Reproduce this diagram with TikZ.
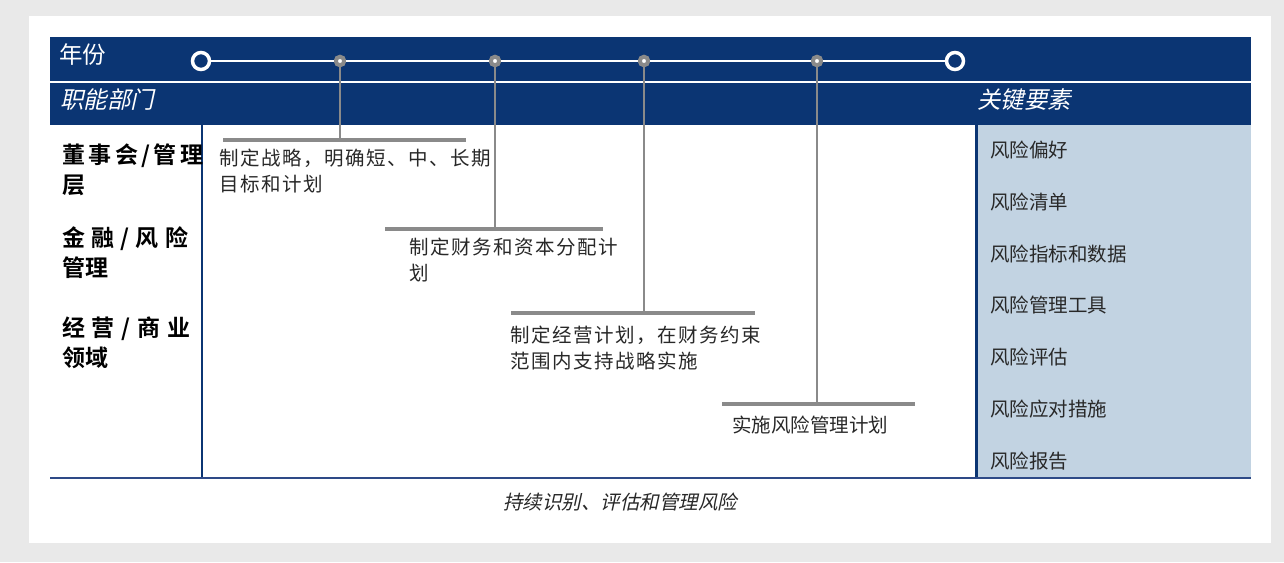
\documentclass[tikz,border=0pt]{standalone}
\usepackage{fontspec}
\newfontfamily\cjk[BoldFont={* Bold}]{Noto Sans CJK SC}
\newfontfamily\cjkit[FakeSlant=0.22]{Noto Sans CJK SC}
\newfontfamily\cjkls[LetterSpace=8]{Noto Sans CJK SC}
\definecolor{navy}{RGB}{11,53,115}
\definecolor{bggray}{RGB}{233,233,233}
\definecolor{panelblue}{RGB}{194,211,226}
\definecolor{bottomblue}{RGB}{46,74,135}
\definecolor{barsgray}{RGB}{138,138,138}
\definecolor{txtgray}{RGB}{40,40,40}
\tikzset{
  opencirc/.style={circle, draw=white, line width=3.5pt, fill=navy, minimum size=17pt, inner sep=0pt},
  tdot/.style={circle, fill=white, draw=barsgray, line width=4pt, minimum size=8.5pt, inner sep=0pt},
  bar/.style={draw=barsgray, line width=4pt},
  drop/.style={draw=barsgray, line width=2pt},
  steptext/.style={anchor=base west, inner sep=0pt, align=left, text=txtgray, font=\cjkls\fontsize{19.5}{26}\selectfont},
  keyitem/.style={anchor=base west, inner sep=0pt, text=txtgray, font=\cjk\fontsize{19.5}{24}\selectfont},
  dept/.style={anchor=base west, inner sep=0pt, align=left, text=black, font=\cjk\bfseries\fontsize{23}{30}\selectfont},
  headtext/.style={anchor=base west, inner sep=0pt, text=white, font=\cjkit\fontsize{23.5}{28}\selectfont},
}
\begin{document}
\begin{tikzpicture}[x=1pt,y=-1pt]
\useasboundingbox (0,0) rectangle (1284,562);
\fill[bggray] (0,0) rectangle (1284,562);
\fill[white] (29,16) rectangle (1271,543);
% header band
\fill[navy] (50,37) rectangle (1251,125);
\draw[white, line width=2pt] (50,82) -- (1251,82);
% key elements panel
\fill[panelblue] (975,125) rectangle (1251,478);
\draw[navy, line width=2.5pt] (202,125) -- (202,479);
\draw[navy, line width=3pt] (976,125) -- (976,479);
\draw[bottomblue, line width=2.5pt] (50,478) -- (1251,478);
% header texts
\node[headtext, font=\cjk\fontsize{23.5}{28}\selectfont] (year) at (59,63) {年份};
\node[headtext] (func) at (60,108) {职能部门};
\node[headtext] (keyh) at (977,108) {关键要素};
% timeline
\node[opencirc] (t0) at (201,61) {};
\node[opencirc] (t5) at (955,61) {};
\node[tdot] (d1) at (340,61) {};
\node[tdot] (d2) at (495,61) {};
\node[tdot] (d3) at (644,61) {};
\node[tdot] (d4) at (817,61) {};
\draw[white, line width=2.5pt] (t0) -- (d1) -- (d2) -- (d3) -- (d4) -- (t5);
% bars
\coordinate (b1l) at (223,140); \coordinate (b1r) at (466,140); \coordinate (b1) at (340,140);
\coordinate (b2l) at (385,229); \coordinate (b2r) at (603,229); \coordinate (b2) at (495,229);
\coordinate (b3l) at (511,313); \coordinate (b3r) at (755,313); \coordinate (b3) at (644,313);
\coordinate (b4l) at (722,404); \coordinate (b4r) at (915,404); \coordinate (b4) at (817,404);
\draw[drop] (d1) -- (b1);
\draw[drop] (d2) -- (b2);
\draw[drop] (d3) -- (b3);
\draw[drop] (d4) -- (b4);
\draw[bar] (b1l) -- (b1r);
\draw[bar] (b2l) -- (b2r);
\draw[bar] (b3l) -- (b3r);
\draw[bar] (b4l) -- (b4r);
% step texts (anchor at baseline of last line)
\node[steptext] (s1) at (219,191) {制定战略，明确短、中、长期\\目标和计划};
\node[steptext] (s2) at (409,280) {制定财务和资本分配计\\划};
\node[steptext] (s3) at (510,368) {制定经营计划，在财务约束\\范围内支持战略实施};
\node[steptext, font=\cjk\fontsize{19.5}{26}\selectfont] (s4) at (732,432) {实施风险管理计划};
% departments
\node[dept] (dep1) at (62,193) {\makebox[141pt][s]{董\hfill 事\hfill 会\hfill /\hfill 管\hfill 理}\\层};
\node[dept] (dep2) at (62,276) {\makebox[126pt][s]{金\hfill 融\hfill /\hfill 风\hfill 险}\\管理};
\node[dept] (dep3) at (62,366) {\makebox[128pt][s]{经\hfill 营\hfill /\hfill 商\hfill 业}\\领域};
% key items
\node[keyitem] (k1) at (990,157) {风险偏好};
\node[keyitem] (k2) at (990,209) {风险清单};
\node[keyitem] (k3) at (990,261) {风险指标和数据};
\node[keyitem] (k4) at (990,312) {风险管理工具};
\node[keyitem] (k5) at (990,364) {风险评估};
\node[keyitem] (k6) at (990,416) {风险应对措施};
\node[keyitem] (k7) at (990,468) {风险报告};
% caption
\node[anchor=base, inner sep=0pt, text=txtgray, font=\cjkit\fontsize{19.5}{24}\selectfont] (cap) at (620,509) {持续识别、评估和管理风险};
\end{tikzpicture}
\end{document}
